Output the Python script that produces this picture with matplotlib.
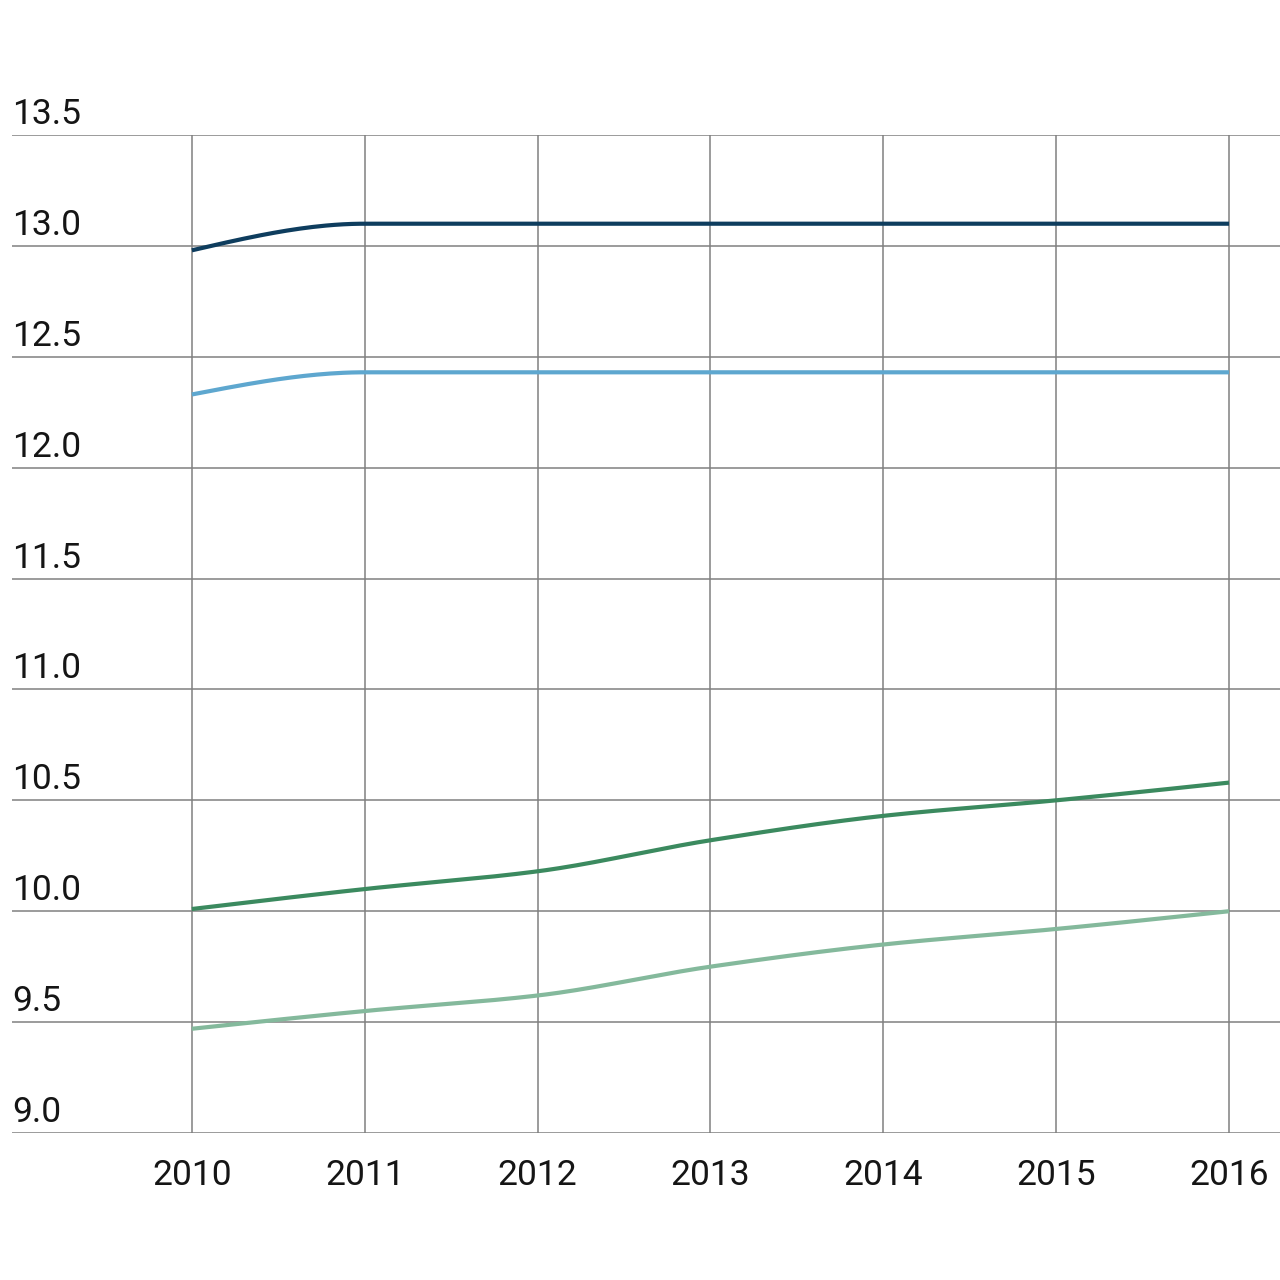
import numpy as np
import matplotlib
matplotlib.use("Agg")
import matplotlib.pyplot as plt
from matplotlib.transforms import ScaledTranslation

years = [2010, 2011, 2012, 2013, 2014, 2015, 2016]
navy = [12.98, 13.1, 13.1, 13.1, 13.1, 13.1, 13.1]
light_blue = [12.33, 12.43, 12.43, 12.43, 12.43, 12.43, 12.43]
green = [10.01, 10.1, 10.18, 10.32, 10.43, 10.5, 10.58]
light_green = [9.47, 9.55, 9.62, 9.75, 9.85, 9.92, 10.0]
yticks = [9.0, 9.5, 10.0, 10.5, 11.0, 11.5, 12.0, 12.5, 13.0, 13.5]
ytick_labels = ["9.0", "9.5", "10.0", "10.5", "11.0", "11.5", "12.0", "12.5", "13.0", "13.5"]
xtick_labels = ["2010", "2011", "2012", "2013", "2014", "2015", "2016"]

series = [
    (navy, "#0e3d5e"),
    (light_blue, "#5ea7cf"),
    (green, "#3b8a5f"),
    (light_green, "#84b99c"),
]


def monotone_curve(x, y, n=40):
    """Monotone cubic (Fritsch-Carlson) path through the points, for drawing."""
    x = np.asarray(x, float)
    y = np.asarray(y, float)
    h = np.diff(x)
    d = np.diff(y) / h
    m = np.zeros_like(y)
    for i in range(1, len(y) - 1):
        if d[i - 1] * d[i] <= 0:
            m[i] = 0.0
        else:
            w1 = 2 * h[i] + h[i - 1]
            w2 = h[i] + 2 * h[i - 1]
            m[i] = (w1 + w2) / (w1 / d[i - 1] + w2 / d[i])
    m[0] = (3 * d[0] - m[1]) / 2 if d[0] * (3 * d[0] - m[1]) > 0 else 0.0
    m[-1] = (3 * d[-1] - m[-2]) / 2 if d[-1] * (3 * d[-1] - m[-2]) > 0 else 0.0
    xs, ys = [], []
    for i in range(len(x) - 1):
        t = np.linspace(0, 1, n, endpoint=(i == len(x) - 2))
        h00 = 2 * t**3 - 3 * t**2 + 1
        h10 = t**3 - 2 * t**2 + t
        h01 = -2 * t**3 + 3 * t**2
        h11 = t**3 - t**2
        xs.append(x[i] + t * h[i])
        ys.append(h00 * y[i] + h10 * h[i] * m[i] + h01 * y[i + 1] + h11 * h[i] * m[i + 1])
    return np.concatenate(xs), np.concatenate(ys)


plt.rcParams["font.family"] = ["Roboto", "DejaVu Sans"]

fig = plt.figure(figsize=(12.8, 12.8), dpi=100)
ax = fig.add_axes([12 / 1280, 1 - 1133 / 1280, 1 - 12 / 1280, (1133 - 135) / 1280])

ax.set_xlim(2010 - 180 / 173, 2016 + 51 / 173)
ax.set_ylim(9.0, 13.5)

for vals, col in series:
    xs, ys = monotone_curve(years, vals)
    ax.plot(xs, ys, color=col, lw=3.0, solid_capstyle="butt", zorder=3)

ax.set_xticks(years)
ax.set_xticklabels(xtick_labels)
ax.set_yticks(yticks)
ax.set_yticklabels(ytick_labels)

ax.grid(True, color="#808080", lw=1.1, zorder=0)
ax.set_axisbelow(True)
for s in ax.spines.values():
    s.set_visible(False)

ax.tick_params(axis="x", length=0, pad=19, labelsize=25.5, labelcolor="#151515")
ax.tick_params(axis="y", length=0, pad=0, labelsize=25.5, labelcolor="#151515")

offset = ScaledTranslation(0, 11 / 100, fig.dpi_scale_trans)
for lab in ax.get_yticklabels():
    lab.set_horizontalalignment("left")
    lab.set_verticalalignment("baseline")
    lab.set_transform(lab.get_transform() + offset)

fig.savefig("out.png", dpi=100, facecolor="white")
